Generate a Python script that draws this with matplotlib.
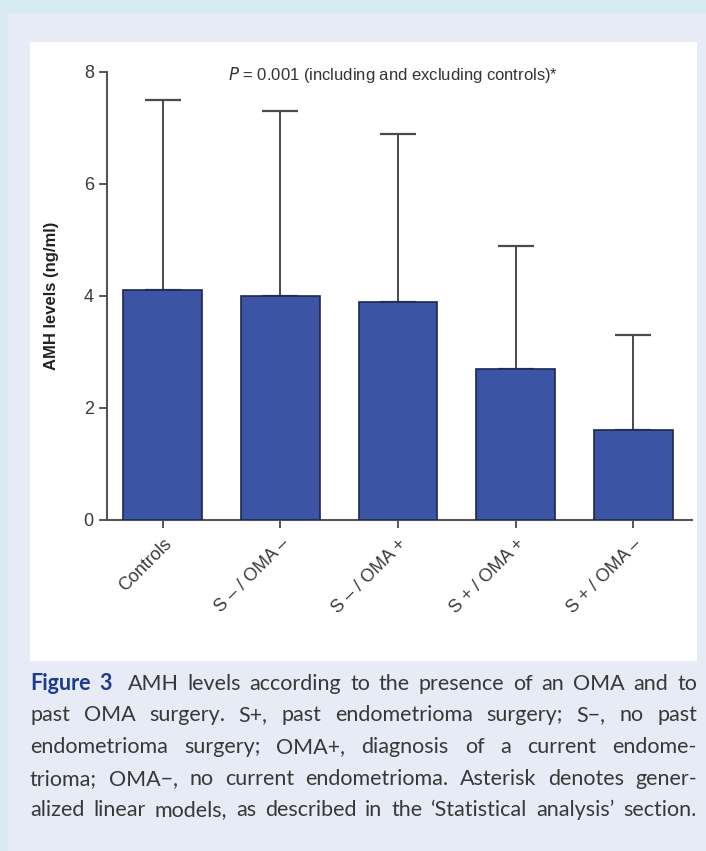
import numpy as np
import matplotlib
matplotlib.use("Agg")
import matplotlib.pyplot as plt
from matplotlib.patches import Rectangle

# AMH levels per group: bar = mean, whisker = upper SD limit
groups = ["Controls", "S – / OMA –", "S – / OMA +", "S + / OMA +", "S + / OMA –"]
amh_mean = [4.1, 4.0, 3.9, 2.7, 1.6]
amh_upper = [7.5, 7.3, 6.9, 4.9, 3.3]
yticks = [0, 2, 4, 6, 8]

caption_lines = [
    [("Figure", "b"), ("3", "b"), ("AMH", ""), ("levels", ""), ("according", ""), ("to", ""), ("the", ""),
     ("presence", ""), ("of", ""), ("an", ""), ("OMA", ""), ("and", ""), ("to", "")],
    "past OMA surgery. S+, past endometrioma surgery; S−, no past",
    "endometrioma surgery; OMA+, diagnosis of a current endome-",
    "trioma; OMA−, no current endometrioma. Asterisk denotes gener-",
    "alized linear models, as described in the ‘Statistical analysis’ section.",
]

W, H = 706, 851
plt.rcParams['font.family'] = ['Liberation Sans', 'DejaVu Sans']
fig = plt.figure(figsize=(W / 100, H / 100), dpi=100)
fig.patch.set_facecolor("#d6ecf0")

def px_rect(x0, y0, x1, y1, color):
    # rectangle given in pixel coords from the top-left corner
    fig.patches.append(Rectangle((x0 / W, 1 - y1 / H), (x1 - x0) / W, (y1 - y0) / H,
                                 transform=fig.transFigure, facecolor=color,
                                 edgecolor="none", zorder=-2))

px_rect(8, 13, W, H, "#e7ebf6")
px_rect(30, 42, 697, 661, "white")

ax = fig.add_axes([107 / W, 1 - 520 / H, 585 / W, 448 / H])
ax.set_facecolor("none")

x = np.arange(len(groups))
err = np.array(amh_upper) - np.array(amh_mean)
ax.bar(x, amh_mean, width=0.67, color="#3b54a4", edgecolor="#1d2755", linewidth=1.2, zorder=3)
ax.errorbar(x, amh_upper, yerr=[err, np.zeros_like(err)], fmt="none", ecolor="#4a4a4a",
            elinewidth=1.4, capsize=13, capthick=1.6, zorder=2)

ax.set_xlim(-0.475, 4.5)
ax.set_ylim(0, 8)
ax.set_yticks(yticks)
ax.set_xticks(x)
ax.set_xticklabels(groups, rotation=45, ha="right", va="top", rotation_mode="anchor")
ax.tick_params(axis="both", colors="#555555", labelcolor="#3a3a3a", labelsize=13,
               width=1.4, length=6)
ax.tick_params(axis="x", pad=5)
for s in ["top", "right"]:
    ax.spines[s].set_visible(False)
for s in ["left", "bottom"]:
    ax.spines[s].set_color("#555555")
    ax.spines[s].set_linewidth(1.5)

ax.set_ylabel("AMH levels (ng/ml)", fontsize=12, fontweight="bold", color="#222222", labelpad=18)

fig.text(228 / W, 1 - 75 / H, "$\\it{P}$ = 0.001 (including and excluding controls)*",
         fontsize=12, color="#333333", va="center")

# justified caption below the chart
renderer = fig.canvas.get_renderer()
left, right = 30, 697
baselines = [690, 721, 753, 785, 816]
for i, (line, base) in enumerate(zip(caption_lines, baselines)):
    if isinstance(line, str):
        words = [(w, "") for w in line.split()]
    else:
        words = line
    texts = []
    for w, style in words:
        kw = dict(fontsize=15.5, family=["Lato", "DejaVu Sans"], va="baseline", ha="left",
                  color="#383838")
        if style == "b":
            kw.update(fontweight="bold", color="#1d3b8f")
        texts.append(fig.text(0, 1 - base / H, w, **kw))
    widths = [t.get_window_extent(renderer).width for t in texts]
    extra = [0.0] * len(texts)
    if i == 0:
        extra[1] = 7  # wider space after the figure number
    gap = (right - left - sum(widths) - sum(extra)) / (len(texts) - 1)
    xpos = left
    for t, wd, ex in zip(texts, widths, extra):
        t.set_x(xpos / W)
        xpos += wd + gap + ex

fig.savefig("out.png", dpi=100, facecolor=fig.get_facecolor())
